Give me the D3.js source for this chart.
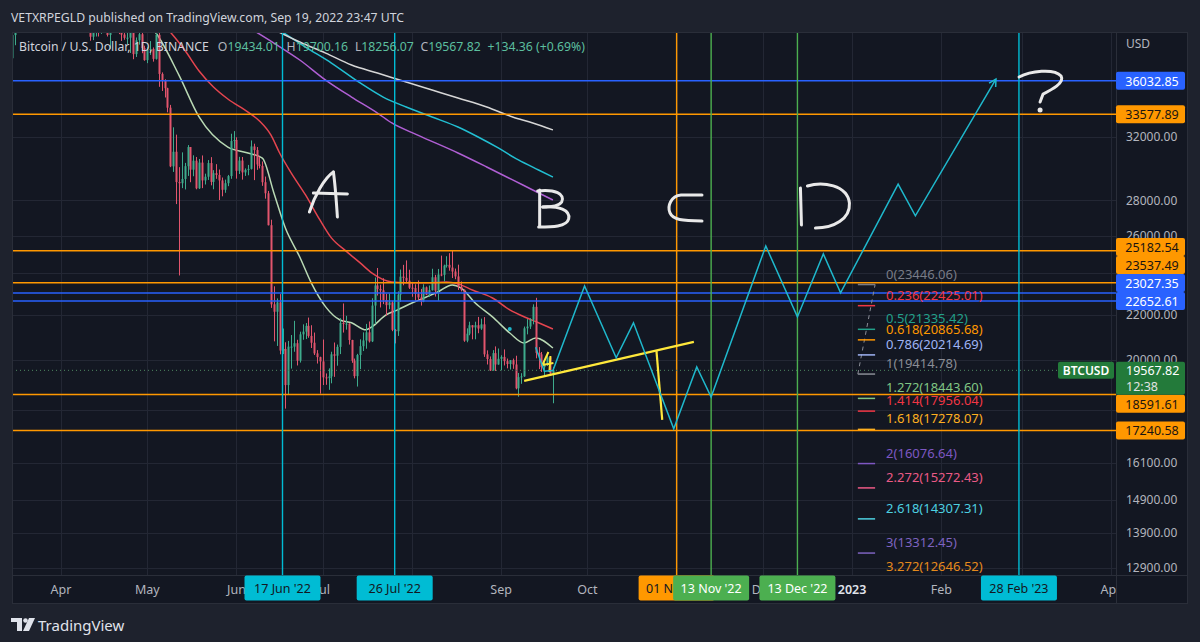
<!DOCTYPE html>
<html>
<head>
<meta charset="utf-8">
<script src="https://cdn.jsdelivr.net/npm/d3@7"></script>
<style>
  html, body { margin: 0; padding: 0; background: #1e222d; }
  svg { display: block; font-family: "Noto Sans", "Open Sans", sans-serif; }
</style>
</head>
<body>
<svg id="chart" width="1200" height="642"></svg>
<script>
// ---------- BTCUSD daily candles, 15 Mar 2022 – 19 Sep 2022 ----------
const firstDay = "2022-03-15";
const opens = [
  37780,39670,41140,40950,41800,42190,41250,41080,42370,42890,43960,44350,44500,46820,47130,47430,47070,
  45510,46280,45810,46410,46580,45500,43170,43440,42250,42750,42160,39530,40070,41150,39940,40550,40380,39680,40800,41490,41360,40480,39710,39440,39450,40430,38110,39240,39740,38600,
  37630,38470,38530,37730,39690,36550,36010,35470,34040,30080,31020,29100,29030,29290,30090,31330,29870,30440,28720,30320,29200,29430,30290,29110,29650,29540,29200,28630,29030,29470,31730,
  31800,29800,30450,29700,29860,29920,31370,31130,30200,30110,29090,28420,26570,22490,22140,22580,20400,20470,18970,20570,20570,20720,19970,21110,21230,21490,21040,20740,20280,20120,
  19940,19280,19250,19320,20240,20180,20560,21620,21590,21590,20860,19970,19330,20210,20590,20840,21200,20800,22430,23400,23230,23160,22690,22450,22580,21310,21250,22950,23840,23780,23640,
  23290,23270,22990,22820,22620,23310,22950,23170,23810,23150,23950,23930,24400,24440,24300,24100,23850,23340,23190,20830,21140,21520,21420,21520,21370,21560,20240,20040,19560,20290,19810,
  20050,20130,19950,19830,19990,19810,18840,19290,19320,21380,21460,21770,22370,20300,20240,19700,19800,20110,19434.01
];
const highs = [
  39930,41720,41480,42330,42400,42300,41730,43360,43000,44220,45100,44800,46990,48190,48100,47700,47600,
  46720,47210,47440,46890,47200,45510,43900,43970,42800,43430,42420,40700,41560,41500,40870,40710,40620,41130,41760,42200,42980,40800,39980,39940,40620,40800,39470,40370,39920,38790,
  38670,39170,38650,40020,39850,36670,36140,35500,34240,32660,32160,30030,30980,30300,31460,31330,30790,30680,30550,30780,29620,30480,30670,29840,30220,29880,29380,29250,29540,32220,32400,
  31980,30690,30680,29950,30170,31770,31550,31330,30700,30390,29440,28560,26880,23360,22770,22980,21370,20760,20820,21080,21720,20870,21230,21560,21620,21870,21520,21190,20420,20140,
  20880,19440,19650,20350,20750,20660,21840,22530,21950,21610,20870,20060,20260,20890,21200,21580,21690,22780,23800,24280,23440,23760,23000,23010,22660,21350,23110,24200,24440,24670,24190,
  23510,23460,23650,23230,23460,23350,23400,24240,23930,24230,24920,24450,24890,25050,25210,24250,24450,23600,23200,21380,21680,21520,21680,21900,21820,21890,20410,20150,20420,20580,20490,
  20200,20450,20060,20000,20060,20180,19460,19450,21460,21800,21840,22490,22800,20550,20340,19900,20190,20110,19700.16
];
const lows = [
  37560,38830,40500,40140,41500,40920,40470,40880,41820,42560,43580,44070,44420,46660,46950,46550,45200,
  44200,45620,45530,45120,45350,43120,42730,42110,42130,41870,39200,39250,39550,39550,39770,39990,39550,38540,40570,40820,39750,39180,39280,38930,38200,37700,37880,38880,38180,37580,
  37390,38050,37510,37670,35570,35260,34780,33710,30030,29730,27780,23900,28730,28650,29480,29090,29460,28660,28680,28730,28950,29230,28900,28660,29300,28020,28240,28450,28850,29300,31220,
  29310,29600,29250,29480,29520,29880,29220,29860,29950,28870,28100,26560,22320,20800,20600,20240,20250,18050,18600,19640,20350,19770,19890,20870,20900,20960,20510,20210,19850,18630,
  18970,18980,18780,19040,19300,19760,20250,21190,21320,20660,19880,19240,18910,19620,20380,20480,20750,20770,21580,22910,22340,22500,21950,22260,21250,20710,21040,22600,23410,23520,23230,
  22850,22660,22680,22430,22590,22930,22840,23150,22860,22660,23860,23600,24300,24140,23770,23710,23180,23110,20780,20760,21070,20890,20890,21160,21310,20130,19810,19540,19560,19540,19800,
  19570,19770,19650,19600,19630,18800,18510,19020,19300,21110,21350,21560,20070,19620,19500,19320,19750,19380,18256.07
];
const closes = [
  39670,41140,40950,41800,42190,41250,41080,42370,42890,43960,44350,44500,46820,47130,47430,47070,45510,
  46280,45810,46410,46580,45500,43170,43440,42250,42750,42160,39530,40070,41150,39940,40550,40380,39680,40800,41490,41360,40480,39710,39440,39450,40430,38110,39240,39740,38600,37630,
  38470,38530,37730,39690,36550,36010,35470,34040,30080,31020,29100,29030,29290,30090,31330,29870,30440,28720,30320,29200,29430,30290,29110,29650,29540,29200,28630,29030,29470,31730,31800,
  29800,30450,29700,29860,29920,31370,31130,30200,30110,29090,28420,26570,22490,22140,22580,20400,20470,18970,20570,20570,20720,19970,21110,21230,21490,21040,20740,20280,20120,19940,
  19280,19250,19320,20240,20180,20560,21620,21590,21590,20860,19970,19330,20210,20590,20840,21200,20800,22430,23400,23230,23160,22690,22450,22580,21310,21250,22950,23840,23780,23640,23290,
  23270,22990,22820,22620,23310,22950,23170,23810,23150,23950,23930,24400,24440,24300,24100,23850,23340,23190,20830,21140,21520,21420,21520,21370,21560,20240,20040,19560,20290,19810,20050,
  20130,19950,19830,19990,19810,18840,19290,19320,21380,21460,21770,22370,20300,20240,19700,19800,20110,19433.46,19567.82
];

// ---------- moving averages (date, price) ----------
const maFast = [["2022-04-30",40900],["2022-05-04",39840],["2022-05-12",36460],["2022-05-19",33380],["2022-05-29",31330],["2022-06-05",30940],["2022-06-10",30610],["2022-06-14",28440],["2022-06-18",26410],["2022-06-23",24850],["2022-06-27",23530],["2022-07-02",22370],["2022-07-07",21760],["2022-07-11",21630],["2022-07-16",21310],["2022-07-18",21440],["2022-07-23",21990],["2022-07-27",22230],["2022-08-01",22550],["2022-08-06",22840],["2022-08-10",23080],["2022-08-15",23430],["2022-08-18",23280],["2022-08-23",22550],["2022-08-29",21900],["2022-09-04",21170],["2022-09-09",20730],["2022-09-13",20950],["2022-09-19",20510]];
const maMid = [["2022-05-06",40770],["2022-05-14",38440],["2022-05-19",36780],["2022-05-24",35560],["2022-05-29",34670],["2022-06-05",33730],["2022-06-09",33100],["2022-06-13",32130],["2022-06-16",30940],["2022-06-20",29670],["2022-06-25",28320],["2022-06-30",26870],["2022-07-04",25870],["2022-07-09",25170],["2022-07-14",24540],["2022-07-18",24030],["2022-07-25",23570],["2022-07-30",23530],["2022-08-06",23530],["2022-08-13",23570],["2022-08-17",23480],["2022-08-22",23180],["2022-08-29",22790],["2022-09-04",22230],["2022-09-10",21850],["2022-09-14",21630],["2022-09-19",21350]];
const maPurple = [["2022-06-01",40940],["2022-06-14",39010],["2022-06-23",37640],["2022-07-02",36080],["2022-07-11",34810],["2022-07-20",33660],["2022-07-25",32960],["2022-08-03",32130],["2022-08-17",30940],["2022-08-27",30040],["2022-09-05",29230],["2022-09-12",28620],["2022-09-19",28020]];
const maCyan = [["2022-06-12",40770],["2022-06-16",40090],["2022-06-25",38680],["2022-07-04",37400],["2022-07-14",35860],["2022-07-22",34810],["2022-07-30",34090],["2022-08-08",33380],["2022-08-17",32680],["2022-08-24",32000],["2022-08-31",31270],["2022-09-07",30490],["2022-09-14",29850],["2022-09-19",29410]];
const maSlow = [["2022-06-08",40900],["2022-06-13",40260],["2022-06-23",39090],["2022-07-02",38190],["2022-07-11",37240],["2022-07-20",36620],["2022-07-30",35930],["2022-08-08",35330],["2022-08-17",34740],["2022-08-27",34090],["2022-09-05",33380],["2022-09-12",32960],["2022-09-19",32480]];
const maColors = ["#b9d9b4", "#e5454f", "#b05fd4", "#22bfd2", "#d6d6d6"];

// ---------- drawn levels ----------
const hLevels = [36032.85, 33577.89, 25182.54, 23537.49, 23027.35, 22652.61, 18591.61, 17240.58];
const hColors = ["#2962ff", "#ff9800", "#ff9800", "#ff9800", "#2962ff", "#2962ff", "#ff9800", "#ff9800"];
const vDates = ["2022-06-17", "2022-07-26", "2022-11-01", "2022-11-13", "2022-12-13", "2023-02-28"];
const vColors = ["#00bcd4", "#00bcd4", "#ff9800", "#4caf50", "#4caf50", "#00bcd4"];
const vTextColors = ["#131722", "#131722", "#131722", "#ffffff", "#ffffff", "#131722"];

// projected wave path
const waveDates = ["2022-09-13","2022-09-16","2022-09-19","2022-09-30","2022-10-11","2022-10-17","2022-10-31","2022-11-08","2022-11-13","2022-12-02","2022-12-13","2022-12-22","2022-12-28","2023-01-17","2023-01-23","2023-02-20"];
const wavePrices = [20540,19530,19560,23380,20090,21630,17300,19710,18500,25430,21900,25010,23040,28980,27100,36160];

// yellow trend line and target drop
const trendDates = ["2022-09-09", "2022-11-07"];
const trendPrices = [19140, 20780];
const dropDates = ["2022-10-25", "2022-10-27"];
const dropPrices = [20380, 17630];

// Fibonacci extension
const fibRatios = ["0", "0.236", "0.5", "0.618", "0.786", "1", "1.272", "1.414", "1.618", "2", "2.272", "2.618", "3", "3.272"];
const fibPrices = [23446.06, 22425.01, 21335.42, 20865.68, 20214.69, 19414.78, 18443.60, 17956.04, 17278.07, 16076.64, 15272.43, 14307.31, 13312.45, 12646.52];
const fibColors = ["#787b86", "#f23645", "#22a08a", "#ff9800", "#9fb4f5", "#8a8d96", "#81c784", "#f23645", "#ffb020", "#7e57c2", "#ec5a86", "#4dd0e1", "#7e63c0", "#e58a1c"];
const fibDates = ["2023-01-03", "2023-01-09"];

// axis ticks
const priceTicks = [32000, 28000, 26000, 22000, 20000, 16100, 14900, 13900, 12900];
const gridPrices = [32000, 28000, 26000, 24000, 22000, 20000, 18000, 16100, 14900, 13900, 12900];
const monthLabels = ["Apr", "May", "Jun", "Jul", "Aug", "Sep", "Oct", "Nov", "Dec", "2023", "Feb", "Mar", "Apr"];

// hand-written wave letters: anchor (date, price) + stroke shapes in px
const letterDates = ["2022-06-26", "2022-09-13", "2022-10-29", "2022-12-13", "2023-02-27"];
const letterPrices = [29850, 28740, 28440, 29040, 36850];
const letterShapes = [
  ["M1,42 C6,26 16,8 25,2", "M25,2 C27,16 28,32 29,47", "M5,23 L39,24"],
  ["M4,2 L4,38", "M2,3 C19,1 30,6 26,14 C23,19 13,19 7,19", "M7,19 C23,18 35,22 33,31 C31,39 16,39 3,39"],
  ["M34,2 L13,2 C3,3 -1,13 2,20 C5,27 14,28 34,28"],
  ["M3,5 L4,42", "M10,3 C25,-2 50,2 52,20 C53,36 36,45 18,45"],
  ["M3,7 C14,1 38,-2 45,6 C49,13 35,20 27,24 L24,32"]
];
const scribbleDate = "2022-09-15", scribblePrice = 20340;
const dotDate = "2022-09-04", dotPrice = 21350;

// ---------- layout ----------
const W = 1200, H = 642;
const P = { l: 12, r: 1116, t: 32, b: 575 };
const axisRight = 1188, axisBottom = 604;
const parseDay = d3.utcParse("%Y-%m-%d");

const x = d3.scaleUtc().domain([Date.UTC(2022, 3, 1), Date.UTC(2023, 3, 1)]).range([61, 1111]);
const y = d3.scaleLog().domain([12900, 32000]).range([568, 137]);

const svg = d3.select("#chart");
svg.append("rect").attr("width", W).attr("height", H).attr("fill", "#1e222d");
svg.append("rect").attr("x", P.l).attr("y", P.t).attr("width", axisRight - P.l).attr("height", axisBottom - P.t).attr("fill", "#131722");

const defs = svg.append("defs");
defs.append("clipPath").attr("id", "plotClip").append("rect").attr("x", P.l).attr("y", P.t).attr("width", P.r - P.l).attr("height", P.b - P.t);
defs.append("clipPath").attr("id", "timeClip").append("rect").attr("x", P.l).attr("y", P.b).attr("width", P.r - P.l).attr("height", axisBottom - P.b);

const plot = svg.append("g").attr("clip-path", "url(#plotClip)");

// grid
const months = d3.utcMonth.range(Date.UTC(2022, 2, 1), Date.UTC(2023, 4, 1));
plot.append("g").selectAll("line").data(months).join("line")
  .attr("x1", d => Math.round(x(d)) + 0.5).attr("x2", d => Math.round(x(d)) + 0.5)
  .attr("y1", P.t).attr("y2", P.b).attr("stroke", "#232734").attr("stroke-width", 1);
plot.append("g").selectAll("line").data(gridPrices).join("line")
  .attr("x1", P.l).attr("x2", P.r)
  .attr("y1", d => Math.round(y(d)) + 0.5).attr("y2", d => Math.round(y(d)) + 0.5)
  .attr("stroke", "#232734").attr("stroke-width", 1);

// moving averages
const maLine = d3.line().x(d => x(parseDay(d[0]))).y(d => y(d[1])).curve(d3.curveMonotoneX);
[maFast, maMid, maPurple, maCyan, maSlow].forEach((s, i) => {
  plot.append("path").attr("d", maLine(s)).attr("fill", "none")
    .attr("stroke", maColors[i]).attr("stroke-width", 1.5);
});

// candles
const start = parseDay(firstDay);
const candles = closes.map((c, i) => ({ date: d3.utcDay.offset(start, i), o: opens[i], h: highs[i], l: lows[i], c }));
const upCol = "#3eab8c", downCol = "#e2556d";
const cg = plot.append("g");
cg.selectAll("line").data(candles).join("line")
  .attr("x1", d => Math.round(x(d.date)) + 0.5).attr("x2", d => Math.round(x(d.date)) + 0.5)
  .attr("y1", d => y(d.h)).attr("y2", d => y(d.l))
  .attr("stroke", d => d.c >= d.o ? upCol : downCol).attr("stroke-width", 1);
cg.selectAll("rect").data(candles).join("rect")
  .attr("x", d => Math.round(x(d.date)) - 0.5).attr("width", 2)
  .attr("y", d => Math.min(y(d.o), y(d.c)))
  .attr("height", d => Math.max(1, Math.abs(y(d.o) - y(d.c))))
  .attr("fill", d => d.c >= d.o ? upCol : downCol);

// horizontal levels
plot.append("g").selectAll("line").data(hLevels).join("line")
  .attr("x1", P.l).attr("x2", P.r).attr("y1", d => y(d)).attr("y2", d => y(d))
  .attr("stroke", (d, i) => hColors[i]).attr("stroke-width", 1.5);

// vertical date lines
plot.append("g").selectAll("line").data(vDates).join("line")
  .attr("x1", d => x(parseDay(d))).attr("x2", d => x(parseDay(d)))
  .attr("y1", P.t).attr("y2", P.b).attr("stroke", (d, i) => vColors[i]).attr("stroke-width", 1.4);

// last price dotted line
const last = candles[candles.length - 1];
const prev = candles[candles.length - 2];
plot.append("line").attr("x1", P.l).attr("x2", 1058).attr("y1", y(last.c)).attr("y2", y(last.c))
  .attr("stroke", "#4f8a62").attr("stroke-width", 1).attr("stroke-dasharray", "1,3");

// yellow trend line and drop
const yellow = "#ffe83b";
plot.append("line")
  .attr("x1", x(parseDay(trendDates[0]))).attr("y1", y(trendPrices[0]))
  .attr("x2", x(parseDay(trendDates[1]))).attr("y2", y(trendPrices[1]))
  .attr("stroke", yellow).attr("stroke-width", 2.2);
plot.append("line")
  .attr("x1", x(parseDay(dropDates[0]))).attr("y1", y(dropPrices[0]))
  .attr("x2", x(parseDay(dropDates[1]))).attr("y2", y(dropPrices[1]))
  .attr("stroke", yellow).attr("stroke-width", 2.2);
plot.append("path")
  .attr("transform", `translate(${x(parseDay(scribbleDate))},${y(scribblePrice)})`)
  .attr("d", "M7,0 L1,13 L12,11 M9,4 L8,20").attr("fill", "none")
  .attr("stroke", yellow).attr("stroke-width", 2).attr("stroke-linejoin", "round");

// projected wave path with arrowhead
const wavePts = waveDates.map((d, i) => [x(parseDay(d)), y(wavePrices[i])]);
const waveCol = "#1fb8cc";
plot.append("path").attr("d", d3.line()(wavePts)).attr("fill", "none")
  .attr("stroke", waveCol).attr("stroke-width", 1.5).attr("stroke-linejoin", "miter");
{
  const [x1, y1] = wavePts[wavePts.length - 2], [x2, y2] = wavePts[wavePts.length - 1];
  const a = Math.atan2(y2 - y1, x2 - x1), L = 8;
  const p1 = [x2 - L * Math.cos(a - 0.5), y2 - L * Math.sin(a - 0.5)];
  const p2 = [x2 - L * Math.cos(a + 0.5), y2 - L * Math.sin(a + 0.5)];
  plot.append("path").attr("d", `M${p1}L${x2},${y2}L${p2}`).attr("fill", "none")
    .attr("stroke", waveCol).attr("stroke-width", 1.5);
}
plot.append("circle").attr("cx", x(parseDay(dotDate))).attr("cy", y(dotPrice)).attr("r", 2).attr("fill", "#1fb8cc");

// Fibonacci tool
const fx1 = x(parseDay(fibDates[0])), fx2 = x(parseDay(fibDates[1]));
plot.append("line").attr("x1", fx1).attr("y1", y(fibPrices[5])).attr("x2", fx2).attr("y2", y(fibPrices[0]))
  .attr("stroke", "#8a8d96").attr("stroke-width", 1).attr("stroke-dasharray", "4,4");
const fib = plot.append("g");
fib.selectAll("line").data(fibPrices).join("line")
  .attr("x1", fx1).attr("x2", fx2).attr("y1", d => y(d)).attr("y2", d => y(d))
  .attr("stroke", (d, i) => fibColors[i]).attr("stroke-width", 1.5);
fib.selectAll("text").data(fibPrices).join("text")
  .attr("x", fx2 + 11).attr("y", d => y(d) - 11).attr("dominant-baseline", "central")
  .attr("font-size", 13).attr("fill", (d, i) => fibColors[i])
  .text((d, i) => `${fibRatios[i]}(${d.toFixed(2)})`);

// hand-written letters
const letters = plot.append("g").attr("fill", "none").attr("stroke", "#e9e9e9")
  .attr("stroke-width", 3).attr("stroke-linecap", "round").attr("stroke-linejoin", "round");
letterShapes.forEach((shape, i) => {
  const g = letters.append("g").attr("transform", `translate(${x(parseDay(letterDates[i]))},${y(letterPrices[i])})`);
  shape.forEach(d => g.append("path").attr("d", d));
  if (i === 4) g.append("circle").attr("cx", 24).attr("cy", 40).attr("r", 2.5).attr("fill", "#e9e9e9").attr("stroke", "none");
});

// ---------- frame lines ----------
svg.append("line").attr("x1", P.r + 0.5).attr("x2", P.r + 0.5).attr("y1", P.t).attr("y2", axisBottom).attr("stroke", "#2a2e39");
svg.append("line").attr("x1", P.l).attr("x2", axisRight).attr("y1", P.b + 0.5).attr("y2", P.b + 0.5).attr("stroke", "#2a2e39");
svg.append("rect").attr("x", P.l + 0.5).attr("y", P.t + 0.5).attr("width", axisRight - P.l - 1).attr("height", axisBottom - P.t - 1)
  .attr("fill", "none").attr("stroke", "#2a2e39");

// ---------- price axis ----------
const yAxis = d3.axisRight(y).tickValues(priceTicks).tickFormat(d3.format(".2f")).tickSize(0).tickPadding(0);
const ya = svg.append("g").attr("transform", `translate(1126,0)`).call(yAxis);
ya.select(".domain").remove();
ya.selectAll("text").attr("fill", "#b2b5be").attr("font-size", 12).attr("font-family", "Noto Sans, sans-serif");
svg.append("text").attr("x", 1126).attr("y", 43).attr("dominant-baseline", "central")
  .attr("font-size", 12).attr("fill", "#b2b5be").text("USD");

// price label boxes, stacked away from the live price badge
const boxH = 18;
const lastY = y(last.c);
const badgeTop = lastY - 8.5, badgeBottom = lastY + 24.5;
const lbls = hLevels.map((v, i) => ({ v, col: hColors[i], cy: y(v) }));
let limit = badgeTop;
lbls.filter(d => d.cy < lastY).sort((a, b) => b.cy - a.cy).forEach(d => { d.cy = Math.min(d.cy, limit - boxH / 2); limit = d.cy - boxH / 2; });
limit = badgeBottom;
lbls.filter(d => d.cy > lastY).sort((a, b) => a.cy - b.cy).forEach(d => { d.cy = Math.max(d.cy, limit + boxH / 2); limit = d.cy + boxH / 2; });
const pl = svg.append("g");
lbls.forEach(d => {
  pl.append("rect").attr("x", 1116).attr("y", d.cy - boxH / 2).attr("width", 69).attr("height", boxH).attr("rx", 2).attr("fill", d.col);
  pl.append("text").attr("x", 1152).attr("y", d.cy + 0.5).attr("text-anchor", "middle").attr("dominant-baseline", "central")
    .attr("font-size", 12.5).attr("fill", d.col === "#2962ff" ? "#ffffff" : "#1a1410").text(d.v.toFixed(2));
});
// live price badge
const green = "#237a3a";
pl.append("rect").attr("x", 1116).attr("y", badgeTop).attr("width", 69).attr("height", badgeBottom - badgeTop).attr("rx", 2).attr("fill", green);
pl.append("text").attr("x", 1126).attr("y", lastY).attr("dominant-baseline", "central").attr("font-size", 12.5).attr("fill", "#ffffff").text(last.c.toFixed(2));
pl.append("text").attr("x", 1126).attr("y", lastY + 16).attr("dominant-baseline", "central").attr("font-size", 12.5).attr("fill", "#e3e3e3").text("12:38");
pl.append("rect").attr("x", 1058).attr("y", badgeTop).attr("width", 56).attr("height", 17).attr("rx", 2).attr("fill", green);
pl.append("text").attr("x", 1086).attr("y", lastY + 0.5).attr("text-anchor", "middle").attr("dominant-baseline", "central")
  .attr("font-size", 12).attr("font-weight", 600).attr("fill", "#ffffff").text("BTCUSD");

// ---------- time axis ----------
const ta = svg.append("g").attr("clip-path", "url(#timeClip)");
const boxW = 76;
const dateBoxes = vDates.map((d, i) => {
  const cx = x(parseDay(d));
  return { cx, left: cx - boxW / 2, right: cx + boxW / 2, i };
});
// month labels, skipping those entirely hidden behind a date box
const monthTicks = d3.utcMonth.range(Date.UTC(2022, 3, 1), Date.UTC(2023, 4, 1));
const halfLbl = 10;
const shownMonths = monthTicks.map((d, i) => ({ d, i })).filter(({ d }) =>
  !dateBoxes.some(b => x(d) - halfLbl > b.left && x(d) + halfLbl < b.right));
ta.selectAll("text.month").data(shownMonths).join("text").attr("class", "month")
  .attr("x", ({ d }) => x(d)).attr("y", 589).attr("text-anchor", "middle").attr("dominant-baseline", "central")
  .attr("font-size", 12.5).attr("fill", ({ i }) => monthLabels[i] === "2023" ? "#e0e3eb" : "#b2b5be")
  .attr("font-weight", ({ i }) => monthLabels[i] === "2023" ? 600 : 400)
  .text(({ i }) => monthLabels[i]);
const fmtDay = d3.utcFormat("%d %b '%y");
dateBoxes.forEach(b => {
  // a later box laid over this one hides the rest of its caption
  const cover = dateBoxes.filter(o => o.i > b.i && o.left > b.left && o.left < b.right);
  const visRight = cover.length ? d3.min(cover, o => o.left) : b.right;
  const cid = `dclip${b.i}`;
  defs.append("clipPath").attr("id", cid).append("rect")
    .attr("x", b.left).attr("y", P.b).attr("width", visRight - b.left).attr("height", axisBottom - P.b);
  ta.append("rect").attr("x", b.left).attr("y", P.b + 0.5).attr("width", boxW).attr("height", 25).attr("rx", 2).attr("fill", vColors[b.i]);
  ta.append("text").attr("clip-path", `url(#${cid})`).attr("x", b.cx).attr("y", 588.5).attr("text-anchor", "middle").attr("dominant-baseline", "central")
    .attr("font-size", 12.5).attr("fill", vTextColors[b.i]).text(fmtDay(parseDay(vDates[b.i])));
});

// ---------- header & legend ----------
svg.append("text").attr("x", 11).attr("y", 17).attr("dominant-baseline", "central")
  .attr("font-size", 13).attr("fill", "#d1d4dc").attr("textLength", 393).attr("lengthAdjust", "spacingAndGlyphs")
  .text("VETXRPEGLD published on TradingView.com, Sep 19, 2022 23:47 UTC");

const chg = last.c - prev.c;
const valCol = "#5cbf9f";
const legendParts = [
  ["Bitcoin / U.S. Dollar, 1D, BINANCE", "#d1d4dc", 9],
  ["O", "#b2b5be", 0], [last.o.toFixed(2), valCol, 7],
  ["H", "#b2b5be", 0], [last.h.toFixed(2), valCol, 7],
  ["L", "#b2b5be", 0], [last.l.toFixed(2), valCol, 7],
  ["C", "#b2b5be", 0], [last.c.toFixed(2), valCol, 7],
  [`${chg >= 0 ? "+" : ""}${chg.toFixed(2)} (${chg >= 0 ? "+" : ""}${(chg / prev.c * 100).toFixed(2)}%)`, valCol, 0]
];
const lgG = svg.append("g");
let lx = 19;
const legendFont = 12.6;
legendParts.forEach(([t, c, gap]) => {
  const el = lgG.append("text").attr("x", lx).attr("y", 46).attr("dominant-baseline", "central")
    .attr("font-size", legendFont).attr("fill", c).text(t);
  lx += el.node().getComputedTextLength() + gap;
});
// fit the legend row to its slot
const lgWidth = lx - 19;
lgG.attr("transform", `translate(19,0) scale(${566 / lgWidth},1) translate(-19,0)`);

// ---------- footer logo ----------
const logo = svg.append("g").attr("fill", "#e0e3eb");
logo.append("path").attr("d", "M11,618 H22 V631 H17 V622 H11 Z");
logo.append("circle").attr("cx", 25.5).attr("cy", 620.5).attr("r", 2.3);
logo.append("path").attr("d", "M29,618 H35 L29,631 H23 Z");
svg.append("text").attr("x", 38).attr("y", 625).attr("dominant-baseline", "central")
  .attr("font-size", 15).attr("fill", "#e0e3eb").text("TradingView");
</script>
</body>
</html>
